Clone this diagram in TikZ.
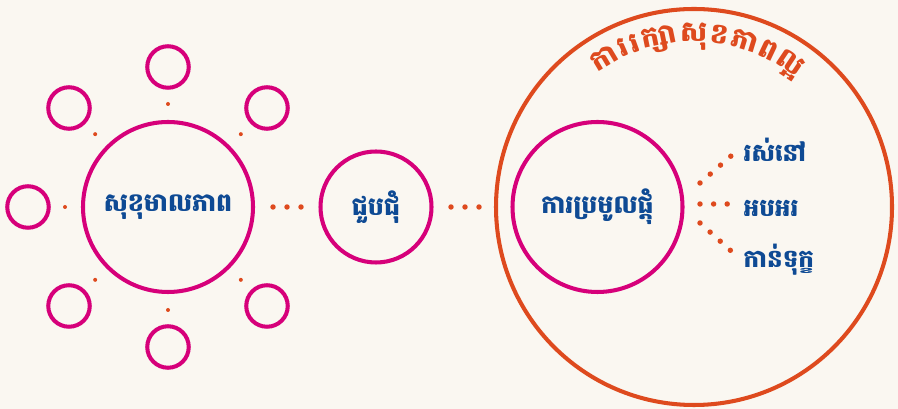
\documentclass[tikz,border=0pt]{standalone}
\usepackage{fontspec}
\usepackage{tikz}
\usetikzlibrary{calc}
\usetikzlibrary{decorations.text}
\newfontfamily\khmer[Script=Khmer]{Battambang}

\begin{document}
\begin{tikzpicture}[thick]

  % Define Colors
  \definecolor{paper}{RGB}{250,247,241}
  \definecolor{ringpink}{RGB}{214,0,122}
  \definecolor{rust}{RGB}{222,74,30}
  \definecolor{inkblue}{RGB}{14,74,148}

  % Node styles
  \tikzstyle{big_ring}=[circle, draw=ringpink, line width=2.3pt, minimum size=3.4cm, inner sep=0pt, text=inkblue, font=\khmer\bfseries\fontsize{14.4}{17}\selectfont]
  \tikzstyle{mid_ring}=[circle, draw=ringpink, line width=2.3pt, minimum size=2.22cm, inner sep=0pt, text=inkblue, font=\khmer\bfseries\fontsize{14.4}{17}\selectfont]
  \tikzstyle{small_ring}=[circle, draw=ringpink, line width=2.3pt, minimum size=0.83cm, inner sep=0pt]
  \tikzstyle{outer_ring}=[circle, draw=rust, line width=2.3pt, minimum size=7.92cm, inner sep=0pt]
  \tikzstyle{word}=[anchor=base west, inner sep=0pt, text=inkblue, font=\khmer\bfseries\fontsize{14}{17}\selectfont]

  \tikzstyle{dot_link}=[rust, line width=3.1pt, line cap=round, dash pattern=on 0pt off 0.28cm]
  \tikzstyle{dot_branch}=[rust, line width=3.1pt, line cap=round, dash pattern=on 0pt off 0.272cm]
  \tikzstyle{dot_small}=[rust]

  % Paper
  \fill[paper] (0,0) rectangle (17.96,8.18);
  \useasboundingbox (0,0) rectangle (17.96,8.18);

  % Nodes
  \node[big_ring] (n_main) at (3.36,4.04) {សុខុមាលភាព};
  \node[mid_ring] (n_meet) at (7.52,4.04) {ជួបជុំ};
  \node[outer_ring] (n_health) at (13.88,4.04) {};
  \node[big_ring] (n_gather) at (11.95,4.04) {ការប្រមូលផ្តុំ};

  \node[small_ring] (n_s_1) at ($(n_main)+(45:2.8)$) {};
  \node[small_ring] (n_s_2) at ($(n_main)+(90:2.8)$) {};
  \node[small_ring] (n_s_3) at ($(n_main)+(135:2.8)$) {};
  \node[small_ring] (n_s_4) at ($(n_main)+(180:2.8)$) {};
  \node[small_ring] (n_s_5) at ($(n_main)+(225:2.8)$) {};
  \node[small_ring] (n_s_6) at ($(n_main)+(270:2.8)$) {};
  \node[small_ring] (n_s_7) at ($(n_main)+(315:2.8)$) {};

  \node[word] (t_live) at (14.86,4.94) {រស់នៅ};
  \node[word] (t_cheer) at (14.86,3.84) {អបអរ};
  \node[word] (t_mourn) at (14.86,2.82) {កាន់ទុក្ខ};

  % Title on the ring
  \path[decorate, decoration={text along path, text align=center,
    text={|\khmer\bfseries\fontsize{16}{19}\selectfont\color{rust}|{\kern.6ptកា\kern.6pt}{\kern.6ptរ\kern.6pt}{\kern.6ptរ\kern.6pt}{\kern.6ptក្សា\kern.6pt}{\kern.6ptសុ\kern.6pt}{\kern.6ptខ\kern.6pt}{\kern.6ptភា\kern.6pt}{\kern.6ptព\kern.6pt}{{\kern.6ptល្អ\kern.6pt}}}}]
    ($(n_health)+(148.5:3.3)$) arc (148.5:28.5:3.3);

  % Dots round the main ring
  \fill[dot_small] ($(n_main)!2.06cm!(n_s_1)$) circle (0.04);
  \fill[dot_small] ($(n_main)!2.06cm!(n_s_2)$) circle (0.04);
  \fill[dot_small] ($(n_main)!2.06cm!(n_s_3)$) circle (0.04);
  \fill[dot_small] ($(n_main)!2.06cm!(n_s_4)$) circle (0.04);
  \fill[dot_small] ($(n_main)!2.06cm!(n_s_5)$) circle (0.04);
  \fill[dot_small] ($(n_main)!2.06cm!(n_s_6)$) circle (0.04);
  \fill[dot_small] ($(n_main)!2.06cm!(n_s_7)$) circle (0.04);

  % Links
  \draw[dot_link] ($(n_main)!2.10cm!(n_meet)$) -- ($(n_main)!2.67cm!(n_meet)$);
  \draw[dot_link] ($(n_meet)!1.50cm!(n_gather)$) -- ($(n_meet)!2.07cm!(n_gather)$);

  % Branches
  \coordinate (b_1) at (14.00,4.52);
  \coordinate (b_2) at (14.00,4.10);
  \coordinate (b_3) at (14.00,3.72);
  \draw[dot_branch] (b_1) -- ($(b_1)!0.83cm!(14.62,5.06)$);
  \draw[dot_branch] (b_2) -- ($(b_2)!0.56cm!(14.56,4.10)$);
  \draw[dot_branch] (b_3) -- ($(b_3)!0.82cm!(14.60,3.18)$);

\end{tikzpicture}
\end{document}
